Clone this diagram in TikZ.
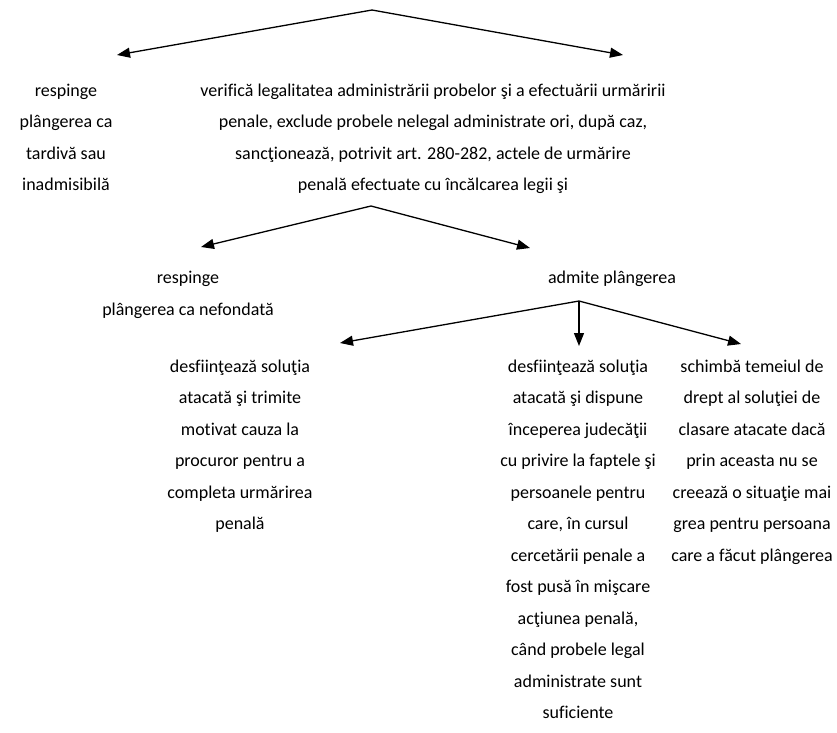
\documentclass[tikz,border=0pt]{standalone}
\usepackage{fontspec}
\setmainfont{Carlito}[Ligatures={NoCommon}]
\usetikzlibrary{arrows.meta}
\begin{document}
\begin{tikzpicture}[x=1pt,y=-1pt,
  txt/.style={inner sep=0pt, align=center, font=\fontsize{18}{31.5}\selectfont, anchor=north},
  arr/.style={line width=1.3pt, -{Triangle[length=13pt,width=10pt]}}]
\useasboundingbox (0,0) rectangle (837,732);
\node[txt] (r1) at (66,83.5) {respinge\\plângerea ca\\tardivă sau\\inadmisibilă};
\node[txt] (v) at (433,83.5) {verifică legalitatea administrării probelor şi a efectuării urmăririi\\penale, exclude probele nelegal administrate ori, după caz,\\sancţionează, potrivit art. 280-282, actele de urmărire\\penală efectuate cu încălcarea legii şi};
\node[txt] (r2) at (188,271) {respinge\\plângerea ca nefondată};
\node[txt] (adm) at (612,271) {admite plângerea};
\node[txt] (c1) at (240,359.5) {desfiinţează soluţia\\atacată şi trimite\\motivat cauza la\\procuror pentru a\\completa urmărirea\\penală};
\node[txt] (c2) at (578,359.5) {desfiinţează soluţia\\atacată şi dispune\\începerea judecăţii\\cu privire la faptele şi\\persoanele pentru\\care, în cursul\\cercetării penale a\\fost pusă în mişcare\\acţiunea penală,\\când probele legal\\administrate sunt\\suficiente};
\node[txt] (c3) at (752,359.5) {schimbă temeiul de\\drept al soluţiei de\\clasare atacate dacă\\prin aceasta nu se\\creează o situaţie mai\\grea pentru persoana\\care a făcut plângerea};
\coordinate (a0) at (372,10);
\coordinate (t1) at (117,55);
\coordinate (t2) at (623,55);
\coordinate (a1) at (371,206);
\coordinate (t3) at (201,247);
\coordinate (t4) at (530,248);
\coordinate (a2) at (579,301);
\coordinate (t5) at (340,343);
\coordinate (t6) at (579,346);
\coordinate (t7) at (741,344);
\draw[arr] (a0) -- (t1);
\draw[arr] (a0) -- (t2);
\draw[arr] (a1) -- (t3);
\draw[arr] (a1) -- (t4);
\draw[arr] (a2) -- (t5);
\draw[arr] (a2) -- (t6);
\draw[arr] (a2) -- (t7);
\end{tikzpicture}
\end{document}
